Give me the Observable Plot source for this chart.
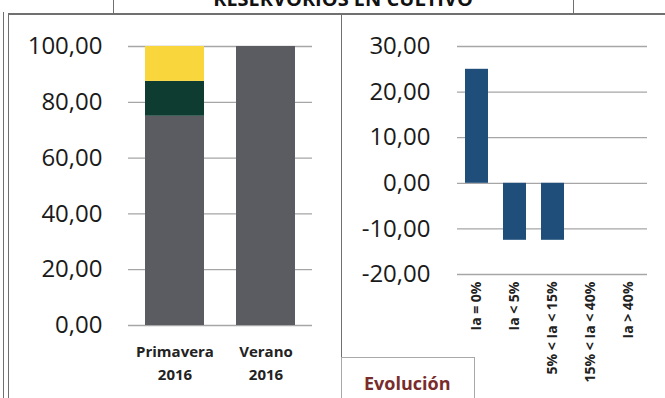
<!DOCTYPE html>
<html><head><meta charset="utf-8">
<script src="https://cdn.jsdelivr.net/npm/d3@7"></script>
<script src="https://cdn.jsdelivr.net/npm/@observablehq/plot@0.6"></script>
<style>
html,body{margin:0;padding:0;background:#fff;}
#wrap{position:relative;width:665px;height:398px;overflow:hidden;font-family:"Open Sans",sans-serif;background:#fff;}
.ln{position:absolute;background:#707070;}
#title{position:absolute;left:0;width:686px;top:-11px;text-align:center;font-weight:bold;font-size:20px;line-height:20px;color:#111;white-space:nowrap;}
#left{position:absolute;left:0;top:14px;}
#right{position:absolute;left:341px;top:14px;}
#evo{position:absolute;left:341px;top:357px;width:134px;height:45px;border:1px solid #a8a8a8;box-sizing:border-box;}
#evo span{position:absolute;left:22px;top:13px;font-size:18px;line-height:24px;font-weight:bold;color:#7a2b2b;white-space:nowrap;}
</style></head>
<body>
<div id="wrap">
  <div id="title">RESERVORIOS EN CULTIVO</div>
  <div id="left"></div>
  <div id="right"></div>
  <div class="ln" style="left:3px;top:12px;width:1.2px;height:386px"></div>
  <div class="ln" style="left:8px;top:14px;width:1.2px;height:384px"></div>
  <div class="ln" style="left:8px;top:13px;width:657px;height:1.5px"></div>
  <div class="ln" style="left:113px;top:0;width:1.2px;height:14px"></div>
  <div class="ln" style="left:573px;top:0;width:1.2px;height:14px"></div>
  <div class="ln" style="left:341px;top:14px;width:1.4px;height:384px"></div>
  <div id="evo"><span>Evolución</span></div>
</div>
<script>
const categories = ["Ia = 0%", "Ia < 5%", "5% < Ia < 15%", "15% < Ia < 40%", "Ia > 40%"];
const seasons = ["Primavera 2016", "Verano 2016"];
const primavera = [75, 12.5, 12.5, 0, 0];
const verano = [100, 0, 0, 0, 0];
const evolucion = [25, -12.5, -12.5, 0, 0];
const leftTicks = [0, 20, 40, 60, 80, 100];
const rightTicks = [-20, -10, 0, 10, 20, 30];

const palette = ["#5a5c62", "#0e3c31", "#f8d63c", "#9a9a9a", "#c9c9c9"];
const gridColor = "#a6a6a6";
const fmt = d => d.toFixed(2).replace(".", ",");

const seasonValues = [primavera, verano];
const stacked = seasons.flatMap((s, i) => categories.map((c, j) => ({season: s, cat: c, value: seasonValues[i][j]})));
const evoTable = categories.map((c, j) => ({cat: c, value: evolucion[j]}));

const baseStyle = {fontFamily: "'Open Sans', sans-serif", background: "transparent", color: "#1a1a1a", overflow: "visible"};

const left = Plot.plot({
  width: 340, height: 384,
  marginLeft: 128, marginRight: 28, marginTop: 32, marginBottom: 73,
  style: baseStyle,
  x: {domain: seasons, paddingInner: 0.355, paddingOuter: 0.183, label: null},
  y: {domain: [0, 100], label: null},
  color: {domain: categories, range: palette},
  marks: [
    Plot.gridY(leftTicks, {stroke: gridColor, strokeOpacity: 1, strokeWidth: 1.3}),
    Plot.barY(stacked, {x: "season", y: "value", fill: "cat"}),
    Plot.axisY(leftTicks, {tickSize: 0, tickPadding: 26, fontSize: 24, tickFormat: fmt, line: true, stroke: gridColor, fill: "#1a1a1a", label: null}),
    Plot.axisX({tickSize: 0, tickPadding: 16, fontSize: 15, fontWeight: "bold", lineHeight: 1.5, tickFormat: d => d.replace(" ", "\n"), fill: "#222", label: null})
  ]
});
document.getElementById("left").append(left);

const right = Plot.plot({
  width: 324, height: 384,
  marginLeft: 116, marginRight: 18, marginTop: 32, marginBottom: 124,
  style: baseStyle,
  x: {domain: categories, paddingInner: 0.4, paddingOuter: 0.2, label: null},
  y: {domain: [-20, 30], label: null},
  marks: [
    Plot.gridY(rightTicks, {stroke: gridColor, strokeOpacity: 1, strokeWidth: 1.3}),
    Plot.barY(evoTable, {x: "cat", y: "value", fill: "#1f4e7a"}),
    Plot.axisY(rightTicks, {tickSize: 0, tickPadding: 27, fontSize: 24, tickFormat: fmt, line: true, stroke: gridColor, fill: "#1a1a1a", label: null}),
    Plot.axisX({tickSize: 0, tickPadding: 7, tickRotate: -90, fontSize: 14, fontWeight: "bold", fill: "#222", label: null})
  ]
});
document.getElementById("right").append(right);
</script>
</body></html>
